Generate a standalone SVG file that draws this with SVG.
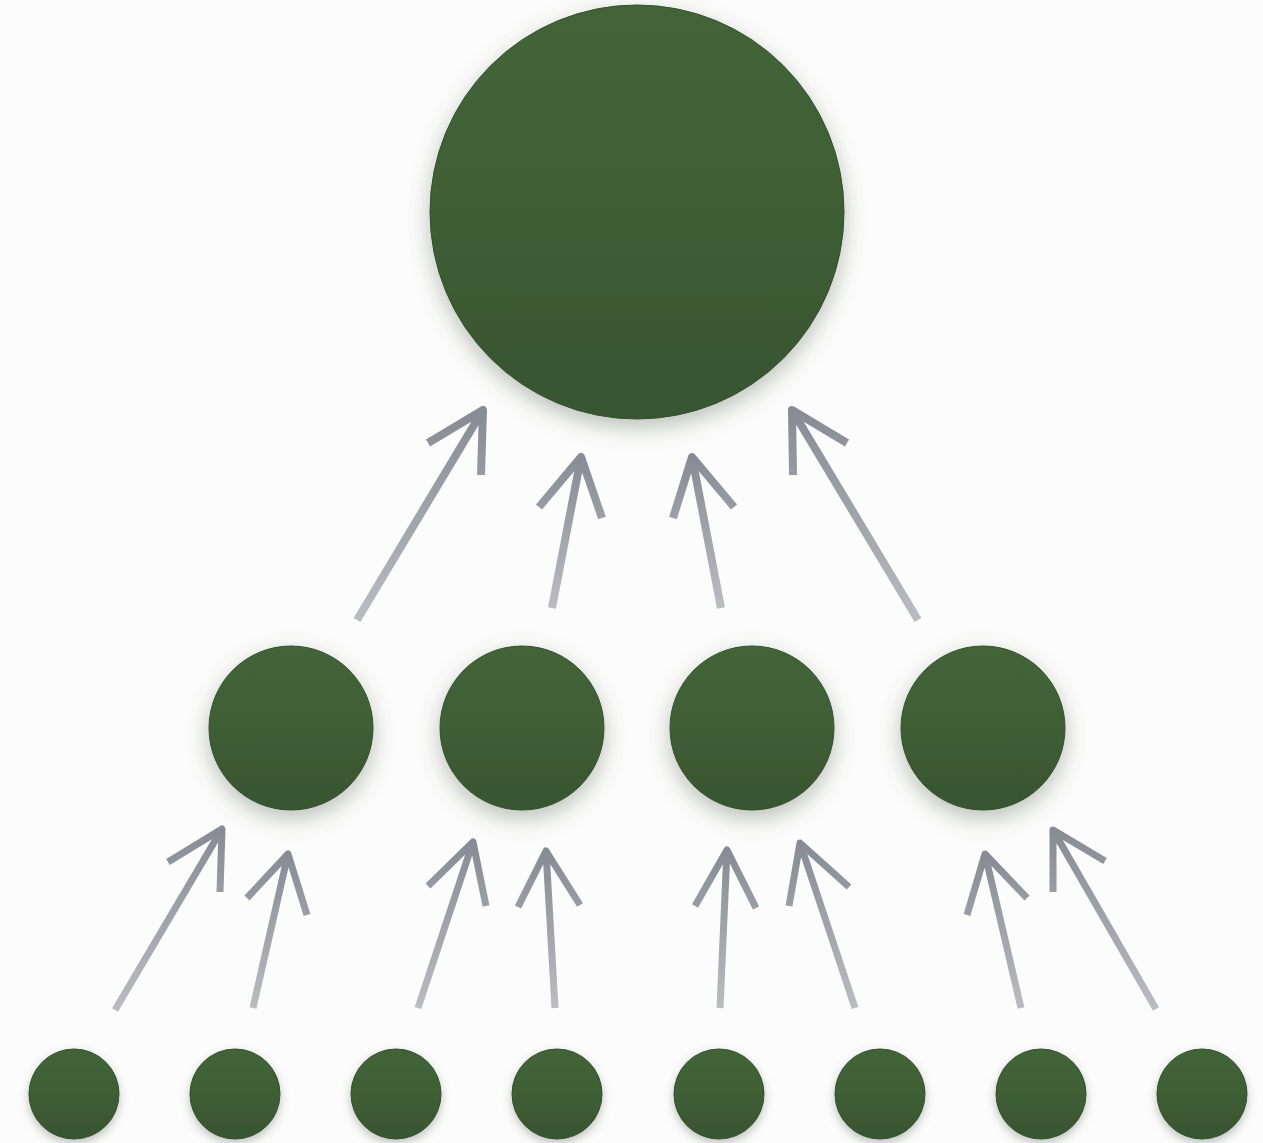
<svg xmlns="http://www.w3.org/2000/svg" width="1263" height="1143" viewBox="0 0 1263 1143">
<defs>
<linearGradient id="ball" x1="0" y1="0" x2="0" y2="1">
<stop offset="0" stop-color="#436539"/>
<stop offset="0.55" stop-color="#3e5d35"/>
<stop offset="1" stop-color="#375530"/>
</linearGradient>
<linearGradient id="arr" x1="0" y1="0" x2="0" y2="1">
<stop offset="0" stop-color="#878b94"/>
<stop offset="1" stop-color="#b9bcc1"/>
</linearGradient>
<filter id="sh" x="-30%" y="-30%" width="160%" height="170%">
<feDropShadow dx="0" dy="8" stdDeviation="11" flood-color="#56634f" flood-opacity="0.4"/>
</filter>
<filter id="shs" x="-30%" y="-30%" width="160%" height="170%">
<feDropShadow dx="0" dy="4" stdDeviation="5" flood-color="#56634f" flood-opacity="0.38"/>
</filter>
</defs>
<style>
.n{fill:url(#ball);stroke:#33502d;stroke-width:1}
.big{filter:url(#sh)}
.sm{filter:url(#shs)}
.a{fill:none;stroke:url(#arr);stroke-linejoin:round;stroke-linecap:butt}
.a1{stroke-width:8}
.a2{stroke-width:7}
</style>
<rect width="1263" height="1143" fill="#fcfcfc"/>
<g id="connectors">
<path class="a a1" d="M357 620 L483 410 M428 443 L483 410 L481 475"/>
<path class="a a1" d="M552 608 L581 457 M539 507 L581 457 L602 518"/>
<path class="a a1" d="M721 608 L692 457 M673 518 L692 457 L734 507"/>
<path class="a a1" d="M918 620 L792 410 M793 475 L792 410 L847 443"/>
<path class="a a2" d="M115 1010 L222 829 M168 862 L222 829 L220 892"/>
<path class="a a2" d="M253 1008 L288 854 M247 898 L288 854 L307 915"/>
<path class="a a2" d="M418 1008 L473 842 M428 886 L473 842 L486 906"/>
<path class="a a2" d="M555 1008 L546 851 M518 907 L546 851 L580 905"/>
<path class="a a2" d="M720 1008 L727 850 M695 906 L727 850 L756 908"/>
<path class="a a2" d="M855 1008 L800 843 M789 906 L800 843 L849 887"/>
<path class="a a2" d="M1021 1008 L985 854 M967 915 L985 854 L1027 898"/>
<path class="a a2" d="M1156 1009 L1053 830 M1053 892 L1053 830 L1105 861"/>
</g>
<g id="root"><circle class="n big" cx="637" cy="212" r="207"/></g>
<g id="mid1"><circle class="n big" cx="291" cy="728" r="82"/></g>
<g id="mid2"><circle class="n big" cx="522" cy="728" r="82"/></g>
<g id="mid3"><circle class="n big" cx="752" cy="728" r="82"/></g>
<g id="mid4"><circle class="n big" cx="983" cy="728" r="82"/></g>
<g id="leaf1"><circle class="n sm" cx="74" cy="1094" r="45"/></g>
<g id="leaf2"><circle class="n sm" cx="235" cy="1094" r="45"/></g>
<g id="leaf3"><circle class="n sm" cx="396" cy="1094" r="45"/></g>
<g id="leaf4"><circle class="n sm" cx="557" cy="1094" r="45"/></g>
<g id="leaf5"><circle class="n sm" cx="719" cy="1094" r="45"/></g>
<g id="leaf6"><circle class="n sm" cx="880" cy="1094" r="45"/></g>
<g id="leaf7"><circle class="n sm" cx="1041" cy="1094" r="45"/></g>
<g id="leaf8"><circle class="n sm" cx="1202" cy="1094" r="45"/></g>
</svg>
